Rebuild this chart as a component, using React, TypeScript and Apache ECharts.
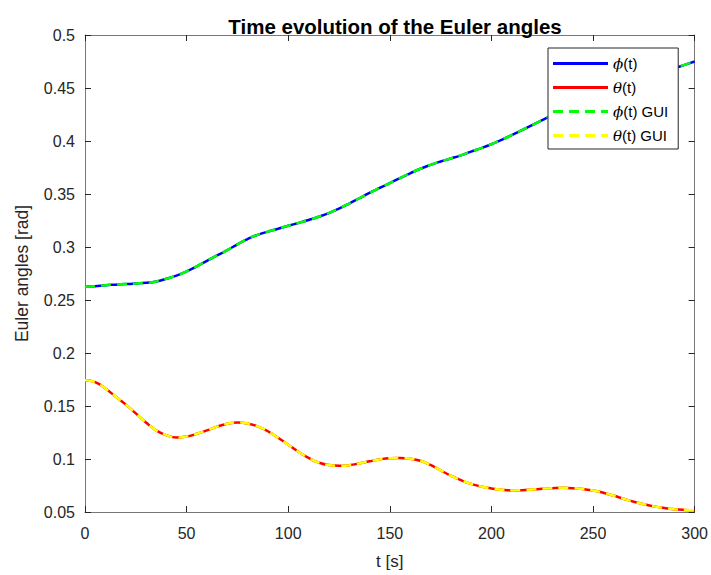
import React, { useEffect, useRef } from "react";
import * as echarts from "echarts";

// Sample times [s]
const time = [
  0, 5, 10, 15, 20, 25, 30, 35, 40, 45, 50, 55, 60, 65, 70, 75, 80, 85, 90, 95, 100,
  105, 110, 115, 120, 125, 130, 135, 140, 145, 150, 155, 160, 165, 170, 175, 180, 185, 190, 195, 200,
  205, 210, 215, 220, 225, 230, 235, 240, 245, 250, 255, 260, 265, 270, 275, 280, 285, 290, 295, 300,
];

// Roll angle phi(t) [rad], simulation
const phi = [
  0.2625, 0.263, 0.264, 0.2645, 0.265, 0.2655, 0.2662, 0.2675, 0.27, 0.273, 0.277, 0.2818, 0.287, 0.292, 0.297, 0.3025, 0.3075, 0.3115, 0.3145, 0.3172, 0.32,
  0.3227, 0.3255, 0.3285, 0.332, 0.3363, 0.341, 0.346, 0.351, 0.3557, 0.3603, 0.365, 0.3695, 0.3738, 0.3775, 0.3807, 0.3835, 0.3865, 0.39, 0.3933, 0.397,
  0.4011, 0.4055, 0.4102, 0.415, 0.4198, 0.4245, 0.4289, 0.433, 0.4368, 0.4405, 0.4438, 0.447, 0.4502, 0.4535, 0.4569, 0.4605, 0.4644, 0.4685, 0.4718, 0.475,
];

// Pitch angle theta(t) [rad], simulation
const theta = [
  0.1744, 0.1725, 0.1665, 0.159, 0.1515, 0.143, 0.1345, 0.127, 0.1225, 0.1203, 0.1212, 0.1238, 0.127, 0.1305, 0.1332, 0.1344, 0.1335, 0.1308, 0.1262, 0.12, 0.1135,
  0.1068, 0.101, 0.0966, 0.0943, 0.0937, 0.0942, 0.0958, 0.0978, 0.0996, 0.1007, 0.101, 0.1003, 0.0983, 0.0945, 0.0893, 0.0843, 0.08, 0.0765, 0.074, 0.0722,
  0.071, 0.0704, 0.0706, 0.0712, 0.0719, 0.0725, 0.0728, 0.0725, 0.0716, 0.0703, 0.0682, 0.0655, 0.0625, 0.0597, 0.0573, 0.0553, 0.0538, 0.0527, 0.052, 0.0516,
];

// Same angles as computed by the GUI
const phiGui = [
  0.2625, 0.263, 0.264, 0.2645, 0.265, 0.2655, 0.2662, 0.2675, 0.27, 0.273, 0.277, 0.2818, 0.287, 0.292, 0.297, 0.3025, 0.3075, 0.3115, 0.3145, 0.3172, 0.32,
  0.3227, 0.3255, 0.3285, 0.332, 0.3363, 0.341, 0.346, 0.351, 0.3557, 0.3603, 0.365, 0.3695, 0.3738, 0.3775, 0.3807, 0.3835, 0.3865, 0.39, 0.3933, 0.397,
  0.4011, 0.4055, 0.4102, 0.415, 0.4198, 0.4245, 0.4289, 0.433, 0.4368, 0.4405, 0.4438, 0.447, 0.4502, 0.4535, 0.4569, 0.4605, 0.4644, 0.4685, 0.4718, 0.475,
];
const thetaGui = [
  0.1744, 0.1725, 0.1665, 0.159, 0.1515, 0.143, 0.1345, 0.127, 0.1225, 0.1203, 0.1212, 0.1238, 0.127, 0.1305, 0.1332, 0.1344, 0.1335, 0.1308, 0.1262, 0.12, 0.1135,
  0.1068, 0.101, 0.0966, 0.0943, 0.0937, 0.0942, 0.0958, 0.0978, 0.0996, 0.1007, 0.101, 0.1003, 0.0983, 0.0945, 0.0893, 0.0843, 0.08, 0.0765, 0.074, 0.0722,
  0.071, 0.0704, 0.0706, 0.0712, 0.0719, 0.0725, 0.0728, 0.0725, 0.0716, 0.0703, 0.0682, 0.0655, 0.0625, 0.0597, 0.0573, 0.0553, 0.0538, 0.0527, 0.052, 0.0516,
];

const FONT = "'Liberation Sans', Arial, Helvetica, sans-serif";
const MATH = "'DejaVu Serif', 'Liberation Serif', serif";
const INK = "#262626";
const AXIS = "#777777";

// Legend swatches: a solid bar and a dashed bar
const SOLID_ICON = "path://M0,0h55v3h-55z";
const DASH_ICON = "path://M0,0h10v3h-10z M16,0h10v3h-10z M32,0h10v3h-10z M48,0h7v3h-7z";

const pairs = (vals: number[]) => time.map((t, i) => [t, vals[i]]);

const fmtY = (v: number) => String(parseFloat(v.toFixed(2)));

export default function App() {
  const ref = useRef<HTMLDivElement>(null);

  useEffect(() => {
    if (!ref.current) return;
    const chart = echarts.init(ref.current, undefined, { renderer: "svg" });

    const axisCommon = {
      type: "value" as const,
      axisLine: { show: true, onZero: false, lineStyle: { color: AXIS, width: 1 } },
      axisTick: { show: true, inside: true, length: 6, lineStyle: { color: INK, width: 1 } },
      splitLine: { show: false },
    };

    const lineSeries = (name: string, vals: number[], color: string, dashed: boolean) => ({
      name,
      type: "line",
      smooth: true,
      showSymbol: false,
      symbol: "none",
      data: pairs(vals),
      lineStyle: { color, width: 2.5, type: dashed ? [10, 6] : "solid" },
      itemStyle: { color },
    });

    chart.setOption({
      animation: false,
      backgroundColor: "#ffffff",
      title: {
        text: "Time evolution of the Euler angles",
        left: 390,
        top: 11,
        textAlign: "center",
        textStyle: { fontFamily: FONT, fontSize: 20.5, fontWeight: "bold", color: "#000" },
      },
      grid: { left: 85, right: 16, top: 35, bottom: 60 },
      legend: {
        orient: "vertical",
        left: 548,
        top: 48,
        itemWidth: 55,
        itemHeight: 3,
        itemGap: 9,
        padding: [8, 10, 6, 5],
        backgroundColor: "#ffffff",
        borderColor: INK,
        borderWidth: 1,
        borderRadius: 0,
        data: [
          { name: "phi", icon: SOLID_ICON },
          { name: "theta", icon: SOLID_ICON },
          { name: "phiGui", icon: DASH_ICON },
          { name: "thetaGui", icon: DASH_ICON },
        ],
        formatter: (name: string) => {
          const map: Record<string, string> = {
            phi: "{g|ϕ}(t)",
            theta: "{g|θ}(t)",
            phiGui: "{g|ϕ}(t) GUI",
            thetaGui: "{g|θ}(t) GUI",
          };
          return map[name];
        },
        textStyle: {
          fontFamily: FONT,
          fontSize: 15,
          color: "#000",
          rich: {
            g: { fontFamily: MATH, fontStyle: "italic", fontSize: 15, color: "#000" },
          },
        },
      },
      xAxis: [
        {
          ...axisCommon,
          min: 0,
          max: 300,
          interval: 50,
          name: "t [s]",
          nameLocation: "middle",
          nameGap: 41,
          nameTextStyle: { fontFamily: FONT, fontSize: 17, color: INK },
          axisLabel: { fontFamily: FONT, fontSize: 16, color: INK, margin: 13 },
        },
        {
          ...axisCommon,
          position: "top",
          min: 0,
          max: 300,
          interval: 50,
          axisLabel: { show: false },
        },
      ],
      yAxis: [
        {
          ...axisCommon,
          min: 0.05,
          max: 0.5,
          interval: 0.05,
          name: "Euler angles [rad]",
          nameLocation: "middle",
          nameGap: 54,
          nameTextStyle: { fontFamily: FONT, fontSize: 17.5, color: INK },
          axisLabel: { fontFamily: FONT, fontSize: 16, color: INK, margin: 10, formatter: fmtY },
        },
        {
          ...axisCommon,
          position: "right",
          min: 0.05,
          max: 0.5,
          interval: 0.05,
          axisLabel: { show: false },
        },
      ],
      series: [
        lineSeries("phi", phi, "#0000ff", false),
        lineSeries("theta", theta, "#ff0000", false),
        lineSeries("phiGui", phiGui, "#00ff00", true),
        lineSeries("thetaGui", thetaGui, "#ffff00", true),
      ],
    });

    return () => chart.dispose();
  }, []);

  return (
    <div
      ref={ref}
      style={{ position: "fixed", left: 0, top: 0, width: 711, height: 575, background: "#fff" }}
    />
  );
}
